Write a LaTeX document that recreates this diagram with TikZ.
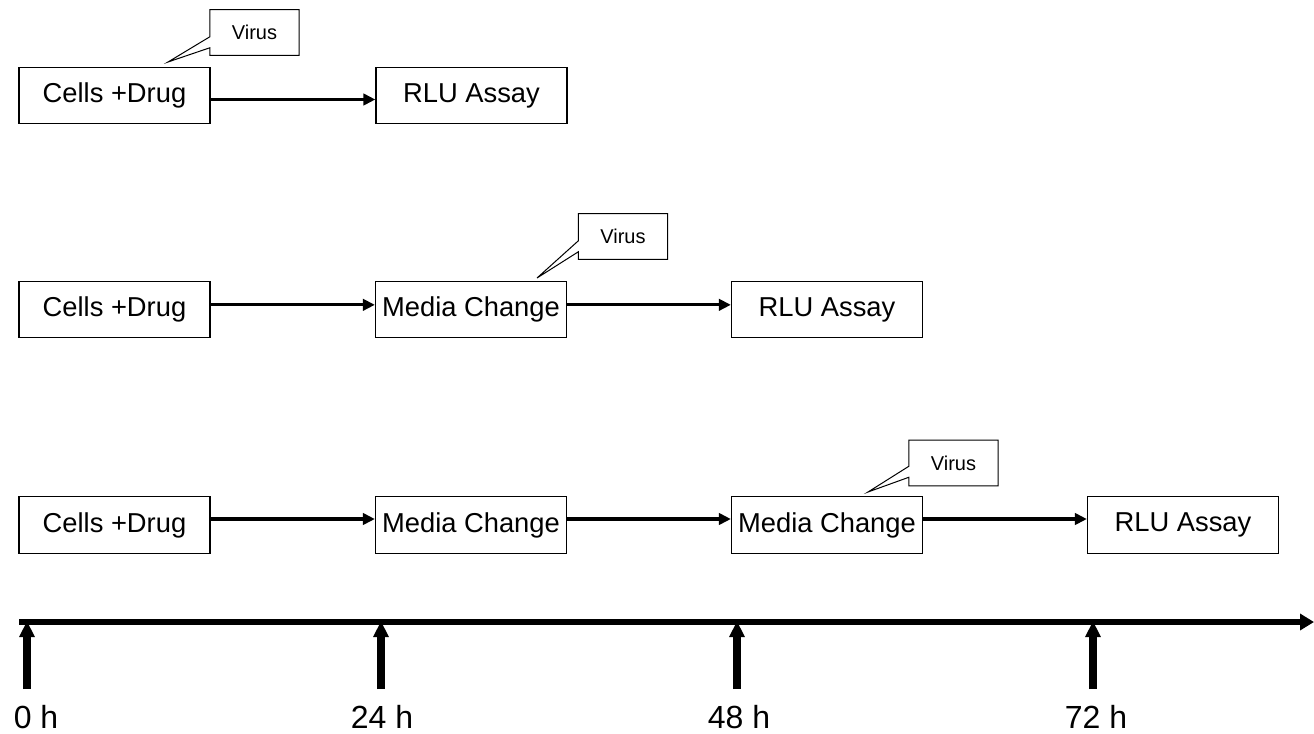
\documentclass[tikz,border=0pt]{standalone}
\usepackage{fontspec}
\setmainfont{Liberation Sans}
\usetikzlibrary{arrows.meta,calc}
\begin{document}
\begin{tikzpicture}[x=0.75pt,y=-0.75pt,
  stepbox/.style={draw,line width=0.9pt,minimum width=143.25pt,minimum height=42.5pt,inner sep=0pt,font=\fontsize{20.5}{23}\selectfont},
  flow/.style={line width=2.3pt,-{Triangle[length=9pt,width=8.5pt]}},
  virus/.style={inner sep=0pt,minimum width=66.5pt,minimum height=33.75pt,font=\fontsize{15}{17}\selectfont},
  callout/.style={draw,line width=0.75pt,line join=miter},
  tick/.style={line width=5.8pt,-{Triangle[length=12pt,width=11pt]}},
  hour/.style={anchor=base,font=\fontsize{24}{28}\selectfont,inner sep=0pt}
]
\useasboundingbox[fill=white] (0,0) rectangle (1314,733);

% Row 1
\node[stepbox] (r1a) at (114.5,95.5) {Cells +Drug};
\node[stepbox] (r1b) at (471.5,95.5) {RLU Assay};
\draw[flow] ([yshift=-3pt]r1a.east) -- ([yshift=-3pt]r1b.west);
\node[virus] (v1) at (254.5,32.5) {Virus};
\coordinate (p1) at (168,62);
\draw[callout] (v1.south west) -- (v1.south east) -- (v1.north east) -- (v1.north west)
  -- ($(v1.north west)+(0,27)$) -- (p1) -- ($(v1.north west)+(0,38)$) -- cycle;

% Row 2
\node[stepbox] (r2a) at (114.5,309.5) {Cells +Drug};
\node[stepbox] (r2b) at (471,309.5) {Media Change};
\node[stepbox] (r2c) at (827,309.5) {RLU Assay};
\draw[flow] ([yshift=3.5pt]r2a.east) -- ([yshift=3.5pt]r2b.west);
\draw[flow] ([yshift=3.5pt]r2b.east) -- ([yshift=3.5pt]r2c.west);
\node[virus] (v2) at (623,236.5) {Virus};
\coordinate (p2) at (537,278);
\draw[callout] (v2.south west) -- (v2.south east) -- (v2.north east) -- (v2.north west)
  -- ($(v2.north west)+(0,27)$) -- (p2) -- ($(v2.north west)+(0,38)$) -- cycle;

% Row 3
\node[stepbox] (r3a) at (114.5,525) {Cells +Drug};
\node[stepbox] (r3b) at (471,525) {Media Change};
\node[stepbox] (r3c) at (827,525) {Media Change};
\node[stepbox] (r3d) at (1183,525) {RLU Assay};
\draw[flow] ([yshift=4.5pt]r3a.east) -- ([yshift=4.5pt]r3b.west);
\draw[flow] ([yshift=4.5pt]r3b.east) -- ([yshift=4.5pt]r3c.west);
\draw[flow] ([yshift=4.5pt]r3c.east) -- ([yshift=4.5pt]r3d.west);
\node[virus] (v3) at (953.5,463) {Virus};
\coordinate (p3) at (868,492);
\draw[callout] (v3.south west) -- (v3.south east) -- (v3.north east) -- (v3.north west)
  -- ($(v3.north west)+(0,26)$) -- (p3) -- ($(v3.north west)+(0,37)$) -- cycle;

% Timeline
\coordinate (tl0) at (19,622);
\coordinate (tl1) at (1314,622);
\draw[line width=4pt,-{Triangle[length=10.5pt,width=12pt]}] (tl0) -- (tl1);

\coordinate (b0) at (27,689);   \coordinate (a0) at (27,621);
\coordinate (b1) at (381,689);  \coordinate (a1) at (381,621);
\coordinate (b2) at (737,689);  \coordinate (a2) at (737,621);
\coordinate (b3) at (1093,689); \coordinate (a3) at (1093,621);
\draw[tick] (b0) -- (a0);
\draw[tick] (b1) -- (a1);
\draw[tick] (b2) -- (a2);
\draw[tick] (b3) -- (a3);

\node[hour] (h0) at (36,728) {0 h};
\node[hour] (h1) at (382,728) {24 h};
\node[hour] (h2) at (739,728) {48 h};
\node[hour] (h3) at (1096,728) {72 h};
\end{tikzpicture}
\end{document}
